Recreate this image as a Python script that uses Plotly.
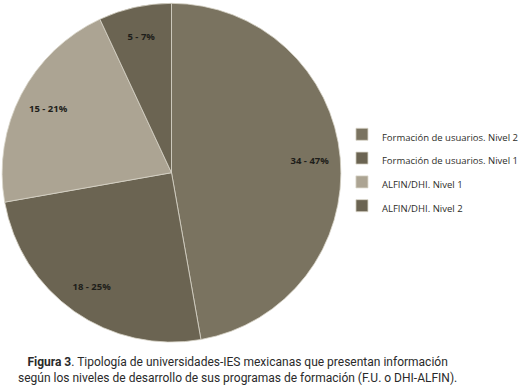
import plotly.graph_objects as go

labels = ["Formación de usuarios. Nivel 2", "Formación de usuarios. Nivel 1",
          "ALFIN/DHI. Nivel 1", "ALFIN/DHI. Nivel 2"]
values = [34, 18, 15, 5]
percent_text = ["47%", "25%", "21%", "7%"]
colors = ["#7a7360", "#6b6452", "#aca493", "#6b6452"]

pie_domain = dict(x=[0.004, 0.642], y=[0.12, 0.992])

# legend entries: small text, but a taller legend row (spacing comes from legend font size)
legend_labels = [f"<span style='font-size:9.5px'>{lab}</span>" for lab in labels]

# base pie: colours, borders and legend
fig = go.Figure(go.Pie(
    labels=legend_labels,
    values=values,
    textinfo="none",
    sort=False,
    direction="clockwise",
    rotation=0,
    marker=dict(colors=colors, line=dict(color="#d8d4c8", width=0.8)),
    domain=pie_domain,
    hoverinfo="skip",
))

# transparent ring on top, only to place the labels near the rim
fig.add_trace(go.Pie(
    labels=legend_labels,
    values=values,
    text=percent_text,
    texttemplate="<b>%{value} - %{text}</b>",
    textposition="inside",
    insidetextorientation="horizontal",
    textfont=dict(family="Open Sans", size=9.5, color="#1e1e1a"),
    hole=0.64,
    sort=False,
    direction="clockwise",
    rotation=0,
    marker=dict(colors=["rgba(0,0,0,0)"] * 4, line=dict(width=0)),
    domain=pie_domain,
    showlegend=False,
    hoverinfo="skip",
))

fig.update_layout(
    width=531, height=389,
    margin=dict(l=0, r=0, t=0, b=0, autoexpand=False),
    paper_bgcolor="white",
    plot_bgcolor="white",
    showlegend=True,
    legend=dict(
        x=0.644, y=0.562, xanchor="left", yanchor="middle",
        font=dict(family="Open Sans", size=16, color="#2e2e2a"),
        itemwidth=30,
    ),
    annotations=[
        dict(
            text="<b>Figura 3</b>. Tipología de universidades-IES mexicanas que presentan información<br>según los niveles de desarrollo de sus programas de formación (F.U. o DHI-ALFIN).",
            x=0.447, y=0.0925, xref="paper", yref="paper",
            xanchor="center", yanchor="top", showarrow=False,
            font=dict(family="Roboto", size=12, color="#2a2a2a"),
            align="center",
        )
    ],
)

fig.write_html("out.html", config={"displayModeBar": False},
               post_script="document.body.style.margin='0';")
